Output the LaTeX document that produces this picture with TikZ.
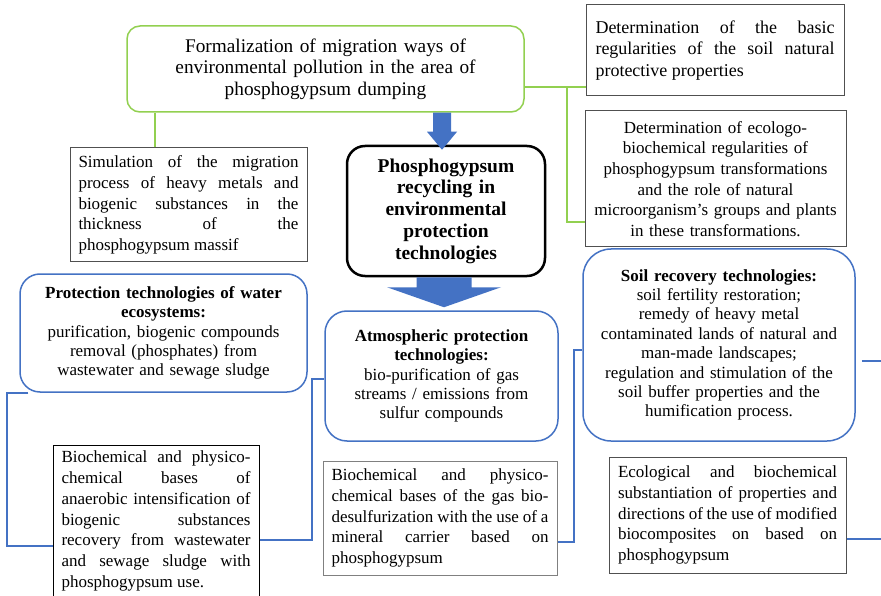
\documentclass[tikz,border=0pt]{standalone}
\usepackage{fontspec}
\setmainfont{Liberation Serif}
\usetikzlibrary{calc}
\definecolor{leaf}{RGB}{146,208,80}
\definecolor{ocean}{RGB}{68,114,196}
\definecolor{boxgray}{RGB}{80,80,80}
\hyphenpenalty=10000
\tolerance=10000
\tikzset{txt/.style={font=\fontsize{17}{20.7}\selectfont,inner ysep=0pt},
jbox/.style={txt,draw=boxgray,line width=1pt,align=justify},
cbox/.style={txt,draw=boxgray,line width=1pt,align=center},
greenr/.style={txt,draw=leaf,line width=1.5pt,rounded corners=13pt,align=center},
bluer/.style={txt,draw=ocean,line width=1.5pt,rounded corners=22pt,align=center,font=\fontsize{17}{19.4}\selectfont},
hub/.style={txt,draw=black,line width=2.5pt,rounded corners=18pt,align=center,font=\fontsize{19.5}{21.7}\selectfont\bfseries},
gline/.style={draw=leaf,line width=2pt},
bline/.style={draw=ocean,line width=2pt},
barrow/.style={fill=ocean}}
% block arrow: tip, tail node, shaft half width, head half width, head length
\newcommand{\blockarrow}[5]{\path (#1) ++(-#3,0) coordinate (shl) ++({2*#3},0) coordinate (shr);
\fill[barrow] (#1) -- ++(-#4,-#5) -- ++({#4-#3},0) -- (shl |- #2.south) -- (shr |- #2.south) -- ($(shr)+(0,-#5)$) -- ++({#4-#3},0) -- cycle;}

\begin{document}
\begin{tikzpicture}[x=1pt,y=-1pt]
\fill[white] (0,0) rectangle (881,596);
\useasboundingbox (0,0) rectangle (881,596);
% upper row
\node[greenr,text width=381pt,inner xsep=8pt,minimum height=86pt,font=\fontsize{19.3}{21.5}\selectfont] (form) at (325.5,69) {Formalization of migration ways of\\environmental pollution in the area of\\phosphogypsum dumping};
\node[jbox,text width=239pt,inner xsep=9.5pt,minimum height=91pt,font=\fontsize{18}{21.5}\selectfont] (basic) at (715,50.5) {Determination of the basic\linebreak regularities of the soil natural\linebreak protective properties};
\node[cbox,text width=245pt,inner xsep=8pt,minimum height=136pt] (eco) at (715.5,179) {Determination of ecologo-\\biochemical regularities of\\phosphogypsum transformations\\and the role of natural\\microorganism’s groups and plants\\in these transformations.};
\node[jbox,text width=220pt,inner xsep=8.5pt,minimum height=114pt] (sim) at (188.5,205) {Simulation of the migration\linebreak process of heavy metals and\linebreak biogenic substances in the\linebreak thickness of the\linebreak phosphogypsum massif};
\node[hub,text width=182pt,inner xsep=8pt,minimum height=130pt] (central) at (446,211) {Phosphogypsum\\recycling in\\environmental\\protection\\technologies};
% technologies
\node[bluer,text width=271pt,inner xsep=8pt,minimum height=118pt,rounded corners=20pt] (water) at (163.5,333) {\textbf{Protection technologies of water}\\\textbf{ecosystems:}\\purification, biogenic compounds\\removal (phosphates) from\\wastewater and sewage sludge};
\node[bluer,text width=217pt,inner xsep=8pt,minimum height=130pt] (atm) at (441.5,376) {\textbf{Atmospheric protection}\\\textbf{technologies:}\\bio-purification of gas\\streams / emissions from\\sulfur compounds};
\node[bluer,text width=256pt,inner xsep=8pt,minimum height=192pt,rounded corners=28pt] (soil) at (719,345) {\textbf{Soil recovery technologies:}\\soil fertility restoration;\\remedy of heavy metal\\contaminated lands of natural and\\man-made landscapes;\\regulation and stimulation of the\\soil buffer properties and the\\humification process.};
% bases
\node[jbox,draw=black,text width=189pt,inner xsep=8.5pt,minimum height=152pt] (anaer) at (156,521) {Biochemical and physico-\linebreak chemical bases of\linebreak anaerobic intensification of\linebreak biogenic substances\linebreak recovery from wastewater\linebreak and sewage sludge with\linebreak phosphogypsum use.};
\node[jbox,draw=gray,text width=217pt,inner xsep=8.5pt,minimum height=114pt] (gas) at (440,518) {Biochemical and physico-\linebreak chemical bases of the gas bio-\linebreak desulfurization with the use of a\linebreak mineral carrier based on\linebreak phosphogypsum};
\node[jbox,text width=219pt,inner xsep=9pt,minimum height=116pt] (ecol) at (727.5,515) {Ecological and biochemical\linebreak substantiation of properties and\linebreak directions of the use of modified\linebreak biocomposites on based on\linebreak phosphogypsum};
% green links
\draw[gline] ([yshift=-18pt]form.east) coordinate (gj) -- (gj -| basic.west);
\draw[gline] ([xshift=-19pt]gj -| basic.west) |- ([yshift=-43pt]eco.west);
\draw[gline] ([xshift=-33.5pt]sim.north) -- ([xshift=-33.5pt]sim.north |- form.south);
% block arrows
\coordinate (tip1) at ([xshift=-4pt,yshift=-5pt]central.north);
\coordinate (tip2) at ([xshift=2.5pt,yshift=3pt]atm.north);
\blockarrow{tip1}{form}{9}{15}{18}
\blockarrow{tip2}{central}{27.5}{57}{20}
% blue links
\draw[bline] ([xshift=9pt]water.south west) -- ++(-21,0) |- ([yshift=-25pt]anaer.west);
\draw[bline] ([yshift=-19pt]anaer.east) -- ++(52,0) |- ([yshift=-3pt]atm.west);
\draw[bline] ([yshift=-24pt]gas.east) -- ++(16,0) |- ([yshift=-5pt]soil.west);
\draw[bline] ([xshift=6pt,yshift=-16pt]soil.east) -- ++(20,0);
\draw[bline] ([yshift=-24pt]ecol.east) -- ++(35,0);
\end{tikzpicture}
\end{document}
